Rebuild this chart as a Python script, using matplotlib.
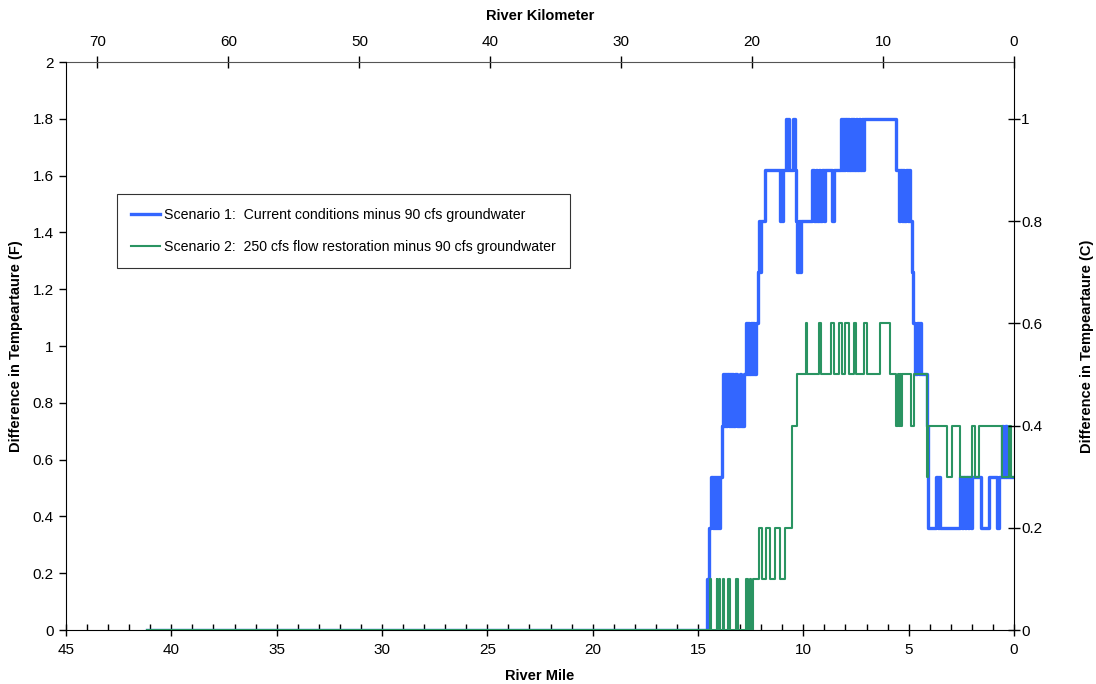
import matplotlib
matplotlib.use("Agg")
import matplotlib.pyplot as plt
from matplotlib.ticker import MultipleLocator, FuncFormatter
import numpy as np

plt.rcParams['font.family'] = ['Liberation Sans', 'DejaVu Sans']

# ---- Data (River Mile, temperature difference in F; step values) ----
s1_mile = [41.15, 14.56, 14.50, 14.40, 14.30, 14.25, 14.20, 14.15, 14.10, 14.05, 14.00, 13.95,
           13.85, 13.82, 13.78, 13.72, 13.66, 13.60, 13.55, 13.50, 13.44, 13.38, 13.32, 13.25,
           13.13, 13.00, 12.95, 12.80, 12.74, 12.68, 12.62, 12.56, 12.50, 12.44, 12.38, 12.32,
           12.26, 12.16, 12.10, 12.05, 12.00, 11.84, 11.11, 11.05, 11.00, 10.97, 10.84, 10.78,
           10.72, 10.68, 10.50, 10.40, 10.35, 10.30, 10.22, 10.18, 10.12, 9.57, 9.50, 9.42,
           9.35, 9.27, 9.20, 9.10, 9.02, 8.95, 8.62, 8.54, 8.23, 8.18, 8.12, 8.06,
           8.00, 7.94, 7.88, 7.82, 7.76, 7.70, 7.64, 7.58, 7.50, 7.44, 7.38, 7.30,
           7.22, 7.16, 7.10, 5.59, 5.45, 5.40, 5.33, 5.27, 5.20, 5.13, 5.05, 5.00,
           4.94, 4.84, 4.80, 4.70, 4.62, 4.52, 4.46, 4.41, 4.13, 4.10, 3.68, 3.62,
           3.58, 3.52, 2.54, 2.46, 2.40, 2.34, 2.28, 2.20, 2.14, 2.06, 2.00, 1.59,
           1.19, 0.79, 0.71, 0.56, 0.50, 0.45, 0.40, 0.36, 0.32, 0.00]
s1_temp = [0.00, 0.18, 0.36, 0.54, 0.36, 0.54, 0.36, 0.54, 0.36, 0.54, 0.36, 0.54,
           0.72, 0.90, 0.72, 0.90, 0.72, 0.90, 0.72, 0.90, 0.72, 0.90, 0.72, 0.90,
           0.72, 0.90, 0.72, 0.90, 1.08, 0.90, 1.08, 0.90, 1.08, 0.90, 1.08, 0.90,
           1.08, 1.26, 1.44, 1.26, 1.44, 1.62, 1.44, 1.62, 1.44, 1.62, 1.80, 1.62,
           1.80, 1.62, 1.80, 1.62, 1.44, 1.26, 1.44, 1.26, 1.44, 1.62, 1.44, 1.62,
           1.44, 1.62, 1.44, 1.62, 1.44, 1.62, 1.44, 1.62, 1.80, 1.62, 1.80, 1.62,
           1.80, 1.62, 1.80, 1.62, 1.80, 1.62, 1.80, 1.62, 1.80, 1.62, 1.80, 1.62,
           1.80, 1.62, 1.80, 1.62, 1.44, 1.62, 1.44, 1.62, 1.44, 1.62, 1.44, 1.62,
           1.44, 1.26, 1.08, 0.90, 1.08, 0.90, 1.08, 0.90, 0.72, 0.36, 0.54, 0.36,
           0.54, 0.36, 0.54, 0.36, 0.54, 0.36, 0.54, 0.36, 0.54, 0.36, 0.54, 0.36,
           0.54, 0.36, 0.54, 0.72, 0.54, 0.72, 0.54, 0.72, 0.54, 0.54]

s2_mile = [41.15, 14.43, 14.37, 14.11, 14.08, 14.02, 13.96, 13.81, 13.77, 13.58, 13.48, 13.21,
           13.10, 12.74, 12.62, 12.55, 12.48, 12.37, 12.10, 11.98, 11.79, 11.60, 11.36, 11.11,
           10.87, 10.55, 10.32, 9.89, 9.81, 9.26, 9.18, 8.70, 8.54, 8.31, 8.15, 8.04,
           7.83, 7.59, 7.48, 7.14, 6.98, 6.35, 5.90, 5.59, 5.52, 5.48, 5.42, 5.38,
           5.32, 4.87, 4.76, 4.13, 4.08, 3.17, 2.94, 2.54, 1.98, 1.83, 1.67, 0.56,
           0.24, 0.16, 0.08, 0.00]
s2_temp = [0.00, 0.18, 0.00, 0.18, 0.00, 0.18, 0.00, 0.18, 0.00, 0.18, 0.00, 0.18,
           0.00, 0.18, 0.00, 0.18, 0.00, 0.18, 0.36, 0.18, 0.36, 0.18, 0.36, 0.18,
           0.36, 0.72, 0.90, 1.08, 0.90, 1.08, 0.90, 1.08, 0.90, 1.08, 0.90, 1.08,
           0.90, 1.08, 0.90, 1.08, 0.90, 1.08, 0.90, 0.72, 0.90, 0.72, 0.90, 0.72,
           0.90, 0.72, 0.90, 0.54, 0.72, 0.54, 0.72, 0.54, 0.72, 0.54, 0.72, 0.54,
           0.72, 0.54, 0.54, 0.54]

s1_label = "Scenario 1:  Current conditions minus 90 cfs groundwater"
s2_label = "Scenario 2:  250 cfs flow restoration minus 90 cfs groundwater"

left_ticks = [0, 0.2, 0.4, 0.6, 0.8, 1, 1.2, 1.4, 1.6, 1.8, 2]
right_ticks = [0, 0.2, 0.4, 0.6, 0.8, 1]
mile_ticks = [45, 40, 35, 30, 25, 20, 15, 10, 5, 0]
km_ticks = [70, 60, 50, 40, 30, 20, 10, 0]

KM_PER_MILE = 1.609

# ---- Figure ----
fig = plt.figure(figsize=(10.96, 6.84), dpi=100)
ax = fig.add_axes([66/1096, 1 - 630/684, (1014-66)/1096, (630-62)/684])

blue = '#3366ff'
green = '#2a9462'
ax.plot(s2_mile, s2_temp, drawstyle='steps-post', color=green, lw=1.5, label=s2_label, zorder=3)
ax.plot(s1_mile, s1_temp, drawstyle='steps-post', color=blue, lw=2.4, label=s1_label, zorder=2)

ax.set_xlim(45, 0)
ax.set_ylim(0, 2)
ax.set_xticks(mile_ticks)
ax.xaxis.set_minor_locator(MultipleLocator(1))
ax.set_yticks(left_ticks)
fmt = FuncFormatter(lambda v, p: f"{v:g}")
ax.yaxis.set_major_formatter(fmt)
ax.tick_params(axis='x', which='major', direction='inout', length=8, width=1, labelsize=11, pad=5)
ax.tick_params(axis='x', which='minor', direction='in', length=4, width=1)
ax.tick_params(axis='y', which='major', direction='out', length=5, width=1, labelsize=11, pad=4)
ax.set_xlabel("River Mile", fontsize=10.5, fontweight='bold', labelpad=9)
ax.set_ylabel("Difference in Tempeartaure (F)", fontsize=10.5, fontweight='bold', labelpad=7)
for s in ['top', 'right']:
    ax.spines[s].set_visible(False)

# Right axis (C)
ax2 = ax.twinx()
ax2.set_ylim(0, 2/1.8)
ax2.set_yticks(right_ticks)
ax2.yaxis.set_major_formatter(fmt)
ax2.tick_params(axis='y', direction='inout', length=8, width=1, labelsize=11, pad=1)
ax2.set_ylabel("Difference in Tempeartaure (C)", fontsize=10.5, fontweight='bold', labelpad=27)
for s in ['top', 'left', 'bottom']:
    ax2.spines[s].set_visible(False)

# Top axis (km)
secx = ax.secondary_xaxis('top', functions=(lambda m: np.asarray(m) * KM_PER_MILE,
                                             lambda k: np.asarray(k) / KM_PER_MILE))
secx.set_xticks(km_ticks)
secx.tick_params(axis='x', direction='inout', length=8, width=1, labelsize=11, pad=5)
secx.set_xlabel("River Kilometer", fontsize=10.5, fontweight='bold', labelpad=11)
secx.spines['top'].set_color('#555555')

# Legend
h, l = ax.get_legend_handles_labels()
leg = ax.legend([h[1], h[0]], [l[1], l[0]], loc='upper left',
                bbox_to_anchor=(0.054, 0.768), fontsize=10.2, frameon=True, fancybox=False,
                edgecolor='black', handlelength=2.0, handletextpad=0.3, labelspacing=1.25,
                borderpad=1.0, borderaxespad=0)
leg.get_frame().set_linewidth(0.8)

fig.savefig("out.png", dpi=100)
